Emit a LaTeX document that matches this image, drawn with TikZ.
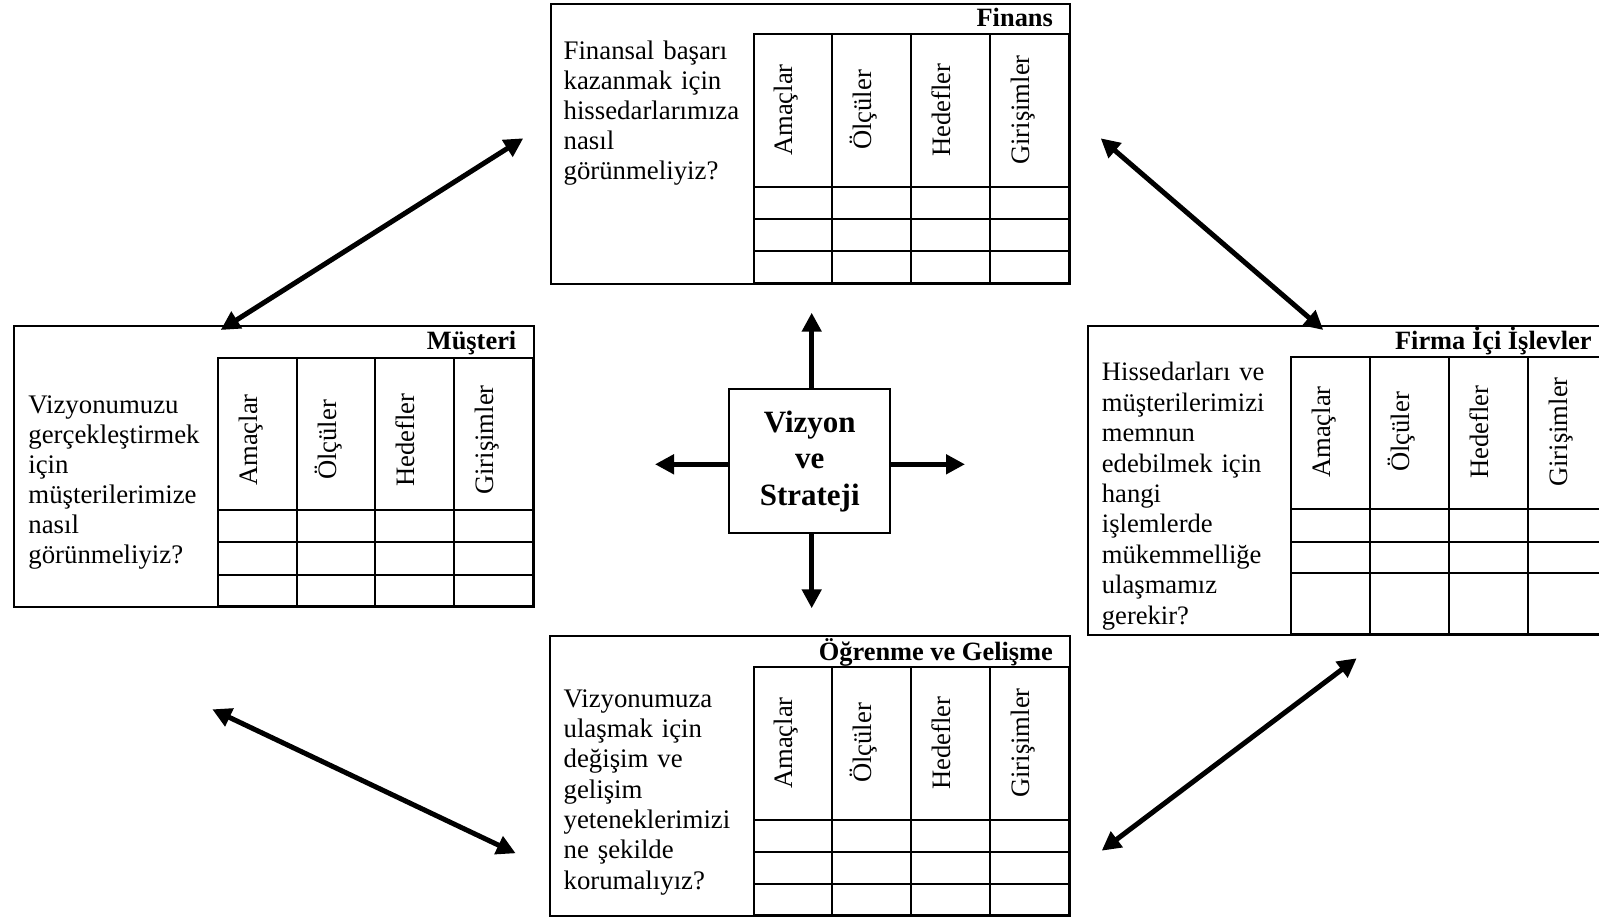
\documentclass[tikz,border=0pt]{standalone}
\usepackage{fontspec}
\setmainfont{Liberation Serif}
\usetikzlibrary{arrows.meta}

\tikzset{
  panel/.style={draw, line width=2.3pt, rectangle, inner sep=0pt, anchor=north west},
  gridline/.style={line width=2pt, line cap=rect},
  colhead/.style={rotate=90, anchor=base, inner sep=0pt, font=\fontsize{26.6}{30}\selectfont},
  question/.style={anchor=base west, inner sep=0pt, text width=210pt, align=left},
  heading/.style={anchor=base east, inner sep=0pt, font=\fontsize{26.4}{30}\selectfont\bfseries},
  core/.style={draw, line width=2pt, minimum width=160.7pt, minimum height=144pt,
               align=center, inner sep=0pt, font=\fontsize{31}{36.7}\selectfont\bfseries},
  link/.style={line width=5pt, {Triangle[length=19pt,width=19pt]}-{Triangle[length=19pt,width=19pt]}},
  spoke/.style={line width=4.7pt, -{Triangle[length=19pt,width=19pt]}},
}

% #1 name, #2 left x, #3 top y, #4 column width, #5 header bottom y,
% #6 inner row lines, #7 bottom y, #8 centre line of the column titles
\newcommand\bsctable[8]{%
  \foreach \k in {0,...,4} \draw[gridline] ({#2+\k*#4},#3) -- ({#2+\k*#4},#7);
  \foreach \yy in {#3,#5,#6,#7} \draw[gridline] (#2,\yy) -- ({#2+4*#4},\yy);
  \foreach \lbl [count=\k from 0] in {Amaçlar,Ölçüler,Hedefler,Girişimler}
    \node[colhead] (#1-\k) at ({#2+(\k+0.5)*#4},#8) {\lbl};
}

\begin{document}
\begin{tikzpicture}[x=1pt, y=-1pt]
\useasboundingbox (0,0) rectangle (1599,917);
\clip (0,0) rectangle (1599,917);

% --- Finans ---
\node[panel, minimum width=519pt, minimum height=280pt] (fin) at (549.6,2.7) {};
\node[heading] (fin-title) at (1053.1,26.7) {Finans};
\bsctable{fin}{753.5}{34}{78.8}{186.7}{219,250.7}{282.7}{110}
\node[question, font=\fontsize{26.8}{30}\selectfont] (fin-q) at (563.4,59.3)
  {Finansal başarı\\kazanmak için\\hissedarlarımıza\\nasıl\\görünmeliyiz?};

% --- Müşteri ---
\node[panel, minimum width=520pt, minimum height=281pt] (cus) at (12.7,325) {};
\node[heading] (cus-title) at (516.5,349.3) {Müşteri};
\bsctable{cus}{218}{357.7}{78.7}{510}{541.7,575}{606}{440}
\node[question, font=\fontsize{26.8}{30}\selectfont] (cus-q) at (28.2,413.3)
  {Vizyonumuzu\\gerçekleştirmek\\için\\müşterilerimize\\nasıl\\görünmeliyiz?};

% --- Firma İçi İşlevler ---
\node[panel, minimum width=520.3pt, minimum height=309pt] (int) at (1086.7,325) {};
\node[heading] (int-title) at (1591.7,349.3) {Firma İçi İşlevler};
\bsctable{int}{1291}{356.7}{79}{509.3}{541.7,573.3}{634}{432}
\node[question, font=\fontsize{26.6}{30.4}\selectfont] (int-q) at (1101.7,381)
  {Hissedarları ve\\müşterilerimizi\\memnun\\edebilmek için\\hangi\\işlemlerde\\mükemmelliğe\\ulaşmamız\\gerekir?};

% --- Öğrenme ve Gelişme ---
\node[panel, minimum width=520pt, minimum height=280pt] (lrn) at (548.6,635) {};
\node[heading] (lrn-title) at (1053.1,660) {Öğrenme ve Gelişme};
\bsctable{lrn}{753.5}{666.7}{78.8}{820}{851.7,884.3}{915}{743}
\node[question, font=\fontsize{26.8}{30.3}\selectfont] (lrn-q) at (563.4,707.3)
  {Vizyonumuza\\ulaşmak için\\değişim ve\\gelişim\\yeteneklerimizi\\ne şekilde\\korumalıyız?};

% --- Vizyon ve Strateji ---
\node[core] (vs) at (809.7,461.3) {Vizyon\\ve\\Strateji};

\coordinate (up) at (811.7,312.7);
\coordinate (dn) at (811.7,608.3);
\coordinate (lf) at (655,464.3);
\coordinate (rt) at (965,464.3);
\draw[spoke] (vs.north -| up) -- (up);
\draw[spoke] (vs.south -| dn) -- (dn);
\draw[spoke] (vs.west |- lf) -- (lf);
\draw[spoke] (vs.east |- rt) -- (rt);

% --- links between the perspectives ---
\coordinate (nw-a) at (220.7,330);
\coordinate (nw-b) at (523.3,138.3);
\coordinate (ne-a) at (1100.7,138.3);
\coordinate (ne-b) at (1323.3,330);
\coordinate (sw-a) at (212.3,709.3);
\coordinate (sw-b) at (515.7,853.3);
\coordinate (se-a) at (1101.7,850.7);
\coordinate (se-b) at (1356.7,658.3);
\draw[link] (nw-a) -- (nw-b);
\draw[link] (ne-a) -- (ne-b);
\draw[link] (sw-a) -- (sw-b);
\draw[link] (se-a) -- (se-b);
\end{tikzpicture}
\end{document}
